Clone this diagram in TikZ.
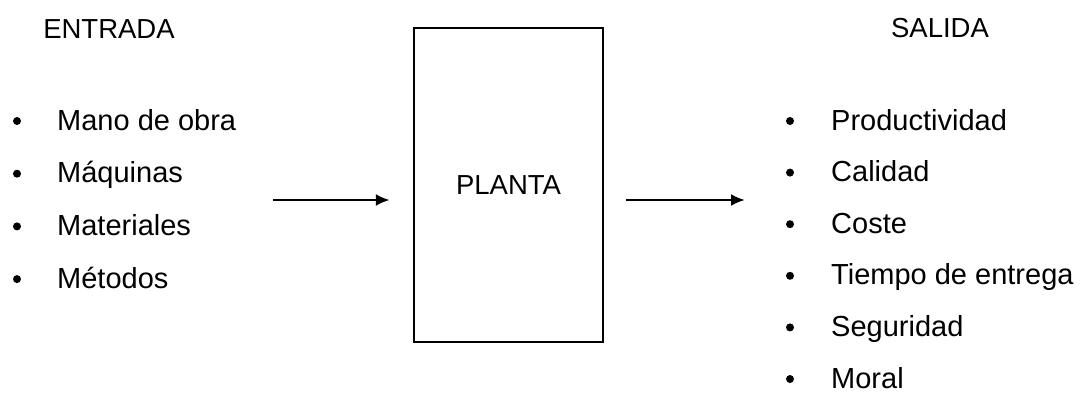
\documentclass[tikz,border=0pt]{standalone}
\usepackage{fontspec}
\setmainfont{Liberation Sans}
\usetikzlibrary{arrows.meta}
\begin{document}
\begin{tikzpicture}[x=1pt,y=-1pt,
  item/.style={anchor=base west,inner sep=0pt,font=\fontsize{29}{32}\selectfont},
  heading/.style={anchor=base,inner sep=0pt,font=\fontsize{27.5}{30}\selectfont},
  dot/.style={circle,fill=black,inner sep=0pt,minimum size=8pt},
  flow/.style={line width=2.4pt,-{Latex[length=14pt,width=12pt]}}]
\useasboundingbox (0,0) rectangle (1085,394);
% central block
\node[draw,line width=2.4pt,minimum width=189pt,minimum height=314pt,
      font=\fontsize{27.5}{30}\selectfont] (plant) at (508.5,185) {PLANTA};
% headings
\node[heading] (hin) at (109,38) {ENTRADA};
\node[heading] (hout) at (940,37) {SALIDA};
% inputs
\foreach \t [count=\i] in {Mano de obra,Máquinas,Materiales,Métodos}{
  \pgfmathsetmacro\yy{130+52.7*(\i-1)}
  \node[dot] (bi\i) at (17,\yy-9) {};
  \node[item] (in\i) at (57,\yy) {\t};
}
% outputs
\foreach \t [count=\i] in {Productividad,Calidad,Coste,Tiempo de entrega,Seguridad,Moral}{
  \pgfmathsetmacro\yy{130+51.6*(\i-1)}
  \node[dot] (bo\i) at (790,\yy-9) {};
  \node[item] (out\i) at (831,\yy) {\t};
}
% flow arrows
\coordinate (srcL) at (273,200);
\coordinate (dstR) at (745,200);
\draw[flow,shorten >=23pt] (srcL) -- (srcL -| plant.west);
\draw[flow,shorten <=22pt] (dstR -| plant.east) -- (dstR);
\end{tikzpicture}
\end{document}
